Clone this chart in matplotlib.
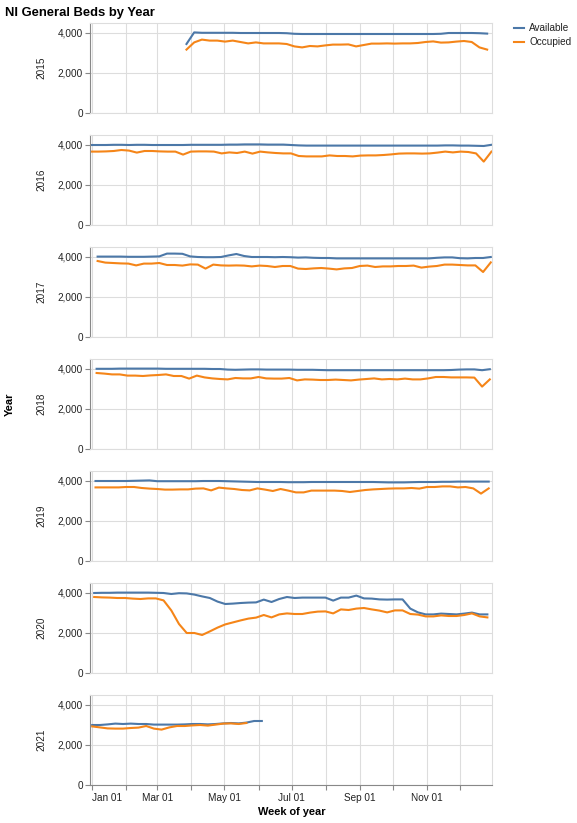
import numpy as np
import matplotlib
matplotlib.use('Agg')
import matplotlib.pyplot as plt

plt.rcParams['font.family'] = ['Liberation Sans', 'DejaVu Sans']

" DATA "

years = [2015, 2016, 2017, 2018, 2019, 2020, 2021]
# day of year of first weekly point for each year
first_day = {2015: 85.6, 2016: -1.5, 2017: 4.9, 2018: 4.0, 2019: 3.0, 2020: 1.8, 2021: 0.0}

avail_2015 = [3450, 4030, 4010, 4010, 4010, 4010, 4010, 4000, 4000, 4000, 4000, 4000, 4000, 3990,
              3960, 3950, 3950, 3950, 3950, 3950, 3950, 3950, 3950, 3950, 3950, 3950, 3950, 3950,
              3950, 3950, 3950, 3950, 3950, 3960, 4000, 4000, 4000, 4000, 3990, 3970]
occ_2015 = [3170, 3530, 3670, 3620, 3620, 3570, 3620, 3550, 3480, 3530, 3480, 3480, 3480, 3450,
            3330, 3280, 3350, 3330, 3380, 3420, 3420, 3430, 3330, 3400, 3470, 3470, 3480, 3470,
            3480, 3480, 3500, 3550, 3580, 3520, 3530, 3570, 3600, 3550, 3280, 3170]

avail_2016 = [4000, 4000, 4000, 4010, 4010, 4000, 4010, 4010, 4000, 4000, 4000, 4000, 4000, 4010,
              4010, 4010, 4010, 4010, 4020, 4020, 4030, 4030, 4030, 4020, 4020, 4020, 4000, 3980,
              3970, 3970, 3970, 3970, 3970, 3970, 3970, 3970, 3970, 3970, 3970, 3970, 3970, 3970,
              3970, 3970, 3970, 3970, 3980, 3980, 3970, 3970, 3960, 3950, 4010]
occ_2016 = [3670, 3670, 3680, 3700, 3750, 3720, 3620, 3700, 3700, 3680, 3670, 3670, 3520, 3670,
            3680, 3680, 3670, 3580, 3630, 3600, 3670, 3570, 3670, 3630, 3600, 3580, 3580, 3450,
            3430, 3430, 3430, 3480, 3450, 3450, 3430, 3470, 3480, 3480, 3500, 3530, 3570, 3580,
            3580, 3570, 3580, 3620, 3670, 3630, 3670, 3650, 3580, 3170, 3670]

avail_2017 = [4020, 4020, 4020, 4020, 4010, 4010, 4010, 4020, 4030, 4170, 4170, 4160, 4030, 4000,
              3990, 3990, 4000, 4080, 4150, 4050, 4000, 4000, 4000, 3990, 4000, 3990, 3970, 3980,
              3960, 3950, 3950, 3930, 3930, 3930, 3930, 3930, 3930, 3930, 3930, 3930, 3930, 3930,
              3930, 3930, 3960, 3980, 3980, 3940, 3930, 3950, 3950, 4000]
occ_2017 = [3800, 3720, 3700, 3680, 3670, 3580, 3670, 3670, 3700, 3600, 3600, 3570, 3630, 3620,
            3420, 3620, 3580, 3570, 3580, 3570, 3530, 3570, 3550, 3500, 3550, 3550, 3420, 3400,
            3430, 3450, 3420, 3380, 3430, 3450, 3550, 3570, 3500, 3530, 3530, 3550, 3550, 3570,
            3470, 3520, 3550, 3620, 3620, 3600, 3580, 3580, 3250, 3730]

avail_2018 = [4010, 4010, 4010, 4020, 4020, 4020, 4020, 4020, 4020, 4010, 4010, 4010, 4010, 4010,
              4010, 4000, 4000, 3970, 3960, 3970, 3980, 3980, 3970, 3970, 3970, 3970, 3960, 3960,
              3960, 3950, 3940, 3940, 3940, 3940, 3940, 3940, 3940, 3940, 3940, 3940, 3940, 3940,
              3940, 3940, 3940, 3940, 3950, 3970, 3980, 3980, 3940, 3990]
occ_2018 = [3800, 3770, 3730, 3730, 3670, 3670, 3650, 3680, 3700, 3730, 3650, 3650, 3520, 3670,
            3580, 3530, 3500, 3480, 3550, 3530, 3530, 3600, 3530, 3520, 3520, 3550, 3430, 3480,
            3470, 3450, 3450, 3470, 3450, 3430, 3470, 3500, 3530, 3480, 3500, 3480, 3520, 3480,
            3480, 3530, 3600, 3600, 3580, 3580, 3580, 3570, 3120, 3480]

avail_2019 = [4000, 4000, 4000, 4000, 4000, 4010, 4020, 4030, 3990, 3990, 3990, 3990, 3990, 3990,
              4000, 4000, 4000, 3990, 3980, 3970, 3960, 3950, 3950, 3950, 3950, 3940, 3940, 3940,
              3950, 3950, 3950, 3950, 3950, 3950, 3950, 3950, 3950, 3940, 3930, 3930, 3930, 3940,
              3950, 3950, 3950, 3960, 3960, 3970, 3970, 3970, 3970, 3970]
occ_2019 = [3680, 3680, 3680, 3680, 3700, 3700, 3650, 3620, 3600, 3570, 3570, 3580, 3580, 3620,
            3630, 3530, 3670, 3630, 3600, 3550, 3530, 3630, 3570, 3500, 3600, 3520, 3430, 3430,
            3520, 3520, 3520, 3520, 3500, 3450, 3500, 3550, 3580, 3600, 3620, 3630, 3630, 3650,
            3620, 3700, 3700, 3730, 3730, 3680, 3700, 3630, 3370, 3630]

avail_2020 = [4000, 4010, 4010, 4020, 4020, 4020, 4020, 4020, 4010, 4000, 3950, 3990, 3980, 3920,
              3830, 3750, 3570, 3450, 3470, 3500, 3520, 3530, 3670, 3550, 3700, 3800, 3750, 3770,
              3770, 3770, 3770, 3620, 3770, 3770, 3870, 3730, 3720, 3680, 3670, 3680, 3680, 3220,
              3030, 2930, 2930, 2970, 2950, 2930, 2970, 3020, 2930, 2930]
occ_2020 = [3800, 3780, 3770, 3750, 3750, 3720, 3700, 3730, 3730, 3630, 3130, 2450, 2000, 2000,
            1900, 2080, 2270, 2430, 2530, 2630, 2720, 2770, 2900, 2780, 2930, 2980, 2950, 2950,
            3020, 3070, 3080, 2980, 3180, 3150, 3220, 3250, 3180, 3120, 3030, 3130, 3130, 2950,
            2920, 2830, 2830, 2880, 2850, 2850, 2900, 2980, 2830, 2780]

avail_2021 = [3000, 3000, 3030, 3070, 3050, 3070, 3050, 3050, 3020, 3020, 3020, 3020, 3030, 3050,
              3050, 3030, 3050, 3080, 3100, 3080, 3120, 3200, 3200]
occ_2021 = [2930, 2880, 2830, 2820, 2820, 2850, 2870, 2950, 2820, 2770, 2880, 2950, 2950, 2980,
            3000, 2970, 3020, 3070, 3080, 3050, 3100]

available = {2015: avail_2015, 2016: avail_2016, 2017: avail_2017, 2018: avail_2018,
             2019: avail_2019, 2020: avail_2020, 2021: avail_2021}
occupied = {2015: occ_2015, 2016: occ_2016, 2017: occ_2017, 2018: occ_2018,
            2019: occ_2019, 2020: occ_2020, 2021: occ_2021}

month_days = [0, 31, 59, 90, 120, 151, 181, 212, 243, 273, 304, 334]
month_names = ['Jan', 'Feb', 'Mar', 'Apr', 'May', 'Jun', 'Jul', 'Aug', 'Sep', 'Oct', 'Nov', 'Dec']

" PLOT "

W, H = 577, 823
fig = plt.figure(figsize=(W / 100, H / 100), dpi=100)

blue = '#4c78a8'
orange = '#f58518'
grid_c = '#dddddd'
axis_c = '#888888'

left, right = 90, 492
ph = 90
tops = [23, 135, 247, 359, 471, 583, 695]

def px(x, y):
    return x / W, 1 - y / H

for i, yr in enumerate(years):
    top = tops[i]
    ax = fig.add_axes([left / W, 1 - (top + ph) / H, (right - left) / W, ph / H])
    a = np.array(available[yr])
    o = np.array(occupied[yr])
    ta = first_day[yr] + 7 * np.arange(len(a))
    to = first_day[yr] + 7 * np.arange(len(o))
    ax.plot(ta, a, color=blue, lw=1.5, solid_joinstyle='round')
    ax.plot(to, o, color=orange, lw=1.5, solid_joinstyle='round')

    ax.set_xlim(-2, 363)
    ax.set_ylim(0, 4500)
    ax.set_yticks([0, 2000, 4000])
    ax.set_yticklabels(['0', '2,000', '4,000'])
    ax.set_xticks(month_days)
    ax.grid(True, color=grid_c, lw=0.8)
    ax.set_axisbelow(True)
    for s in ['top', 'right', 'bottom']:
        ax.spines[s].set_color(grid_c)
        ax.spines[s].set_linewidth(0.8)
    ax.spines['left'].set_color(axis_c)
    ax.spines['left'].set_linewidth(0.8)
    ax.tick_params(axis='y', length=3.6, width=0.8, color=axis_c, pad=1.5,
                   labelsize=7.2, labelcolor='#222222')

    if i == len(years) - 1:
        ax.spines['bottom'].set_color(axis_c)
        ax.tick_params(axis='x', length=3.6, width=0.8, color=axis_c, pad=2,
                       labelsize=7.2, labelcolor='#222222')
        labels = [f'{m} 01' if j % 2 == 0 else '' for j, m in enumerate(month_names)]
        ax.set_xticklabels(labels)
        ax.get_xticklabels()[0].set_horizontalalignment('left')
    else:
        ax.tick_params(axis='x', length=0, labelbottom=False)

    fig.text(*px(41, top + ph / 2), str(yr), rotation=90, ha='center', va='center',
             fontsize=7.2, color='#222222')

fig.text(*px(5, 16), 'NI General Beds by Year', fontsize=9.4, fontweight='bold',
         ha='left', va='baseline')
fig.text(*px(10, 404), 'Year', rotation=90, fontsize=7.9, fontweight='bold',
         ha='center', va='center')
fig.text(*px(292, 812), 'Week of year', fontsize=7.9, fontweight='bold',
         ha='center', va='center')

# legend
for yy, lab, c in [(28, 'Available', blue), (42, 'Occupied', orange)]:
    fig.add_artist(plt.Line2D([514 / W, 524 / W], [1 - yy / H, 1 - yy / H], color=c, lw=1.5))
    fig.text(*px(529, yy), lab, fontsize=7.2, ha='left', va='center', color='#222222')

fig.savefig('out.png', dpi=100)
